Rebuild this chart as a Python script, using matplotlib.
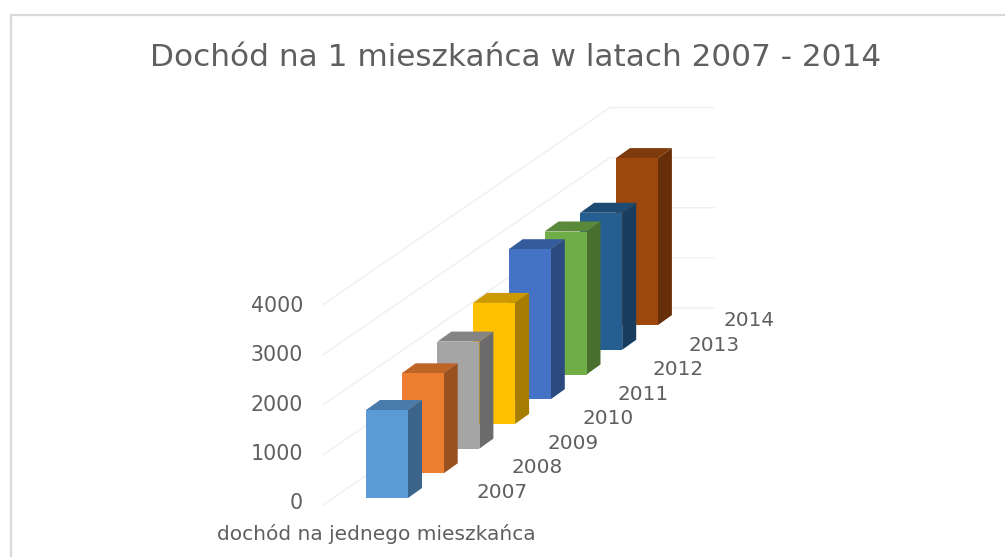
import matplotlib
matplotlib.use("Agg")
import matplotlib.pyplot as plt
from matplotlib.patches import Polygon
from matplotlib.colors import to_rgb

years = [2007, 2008, 2009, 2010, 2011, 2012, 2013, 2014]
values = [1756, 1996, 2136, 2415, 2994, 2854, 2735, 3333]
colors = ["#5B9BD5", "#ED7D31", "#A5A5A5", "#FFC000", "#4472C4", "#70AD47", "#255E91", "#9E480E"]
y_ticks = [0, 1000, 2000, 3000, 4000]
title = "Dochód na 1 mieszkańca w latach 2007 - 2014"
series_name = "dochód na jednego mieszkańca"

plt.rcParams["font.family"] = "DejaVu Sans"
TXT = "#5f5f5f"

# oblique projection, in picture pixels
X0, Y0 = 366, 498      # front left foot of the first bar
STEP_X, STEP_Y = 35.7, -24.7   # one year further back
PX_PER_UNIT = 50.1 / 1000
W, DX, DY = 42, 14, -10   # bar front width and depth

def proj(depth, across, val):
    return (X0 + depth * STEP_X + across,
            Y0 + depth * STEP_Y - val * PX_PER_UNIT)

def shade(c, f):
    return tuple(v * f for v in to_rgb(c))

fig = plt.figure(figsize=(10.05, 5.57), dpi=100)
ax = fig.add_axes([0, 0, 1, 1])
ax.set_xlim(0, 1005)
ax.set_ylim(557, 0)
ax.axis("off")

# frame of the chart area, cropped on the right and bottom
ax.plot([10.5, 10.5, 1005], [557, 14.5, 14.5], color="#d9d9d9", lw=1.6, solid_capstyle="butt")

# walls
for t in y_ticks:
    off = t * PX_PER_UNIT
    ax.plot([323, 610, 714], [505 - off, 308 - off, 308 - off], color="#f0f0f0", lw=1, zorder=0)
    ax.text(303, 503 - t * 0.0492, str(t), ha="right", va="center", fontsize=14.8, color=TXT)

# back to front so the nearer bars cover the others
for i in range(len(years) - 1, -1, -1):
    v, c = values[i], colors[i]
    (xa, ya), (xb, yb) = proj(i, 0, 0), proj(i, W, v)
    yt = ya - v * PX_PER_UNIT
    ax.add_patch(Polygon([(xb, ya), (xb + DX, ya + DY), (xb + DX, yt + DY), (xb, yt)],
                         fc=shade(c, 0.65), ec="none"))
    ax.add_patch(Polygon([(xa, yt), (xa + DX, yt + DY), (xb + DX, yt + DY), (xb, yt)],
                         fc=shade(c, 0.8), ec="none"))
    ax.add_patch(Polygon([(xa, ya), (xb, ya), (xb, yt), (xa, yt)], fc=c, ec="none"))
    ax.text(502 + i * 35.3, 492 - i * 24.43, str(years[i]), ha="center", va="center",
            fontsize=14.4, color=TXT)

ax.text(376, 534, series_name, ha="center", va="center", fontsize=14.5, color=TXT)
ax.text(515.5, 57, title, ha="center", va="center", fontsize=22.4, color=TXT)

fig.savefig("out.png", dpi=100)
